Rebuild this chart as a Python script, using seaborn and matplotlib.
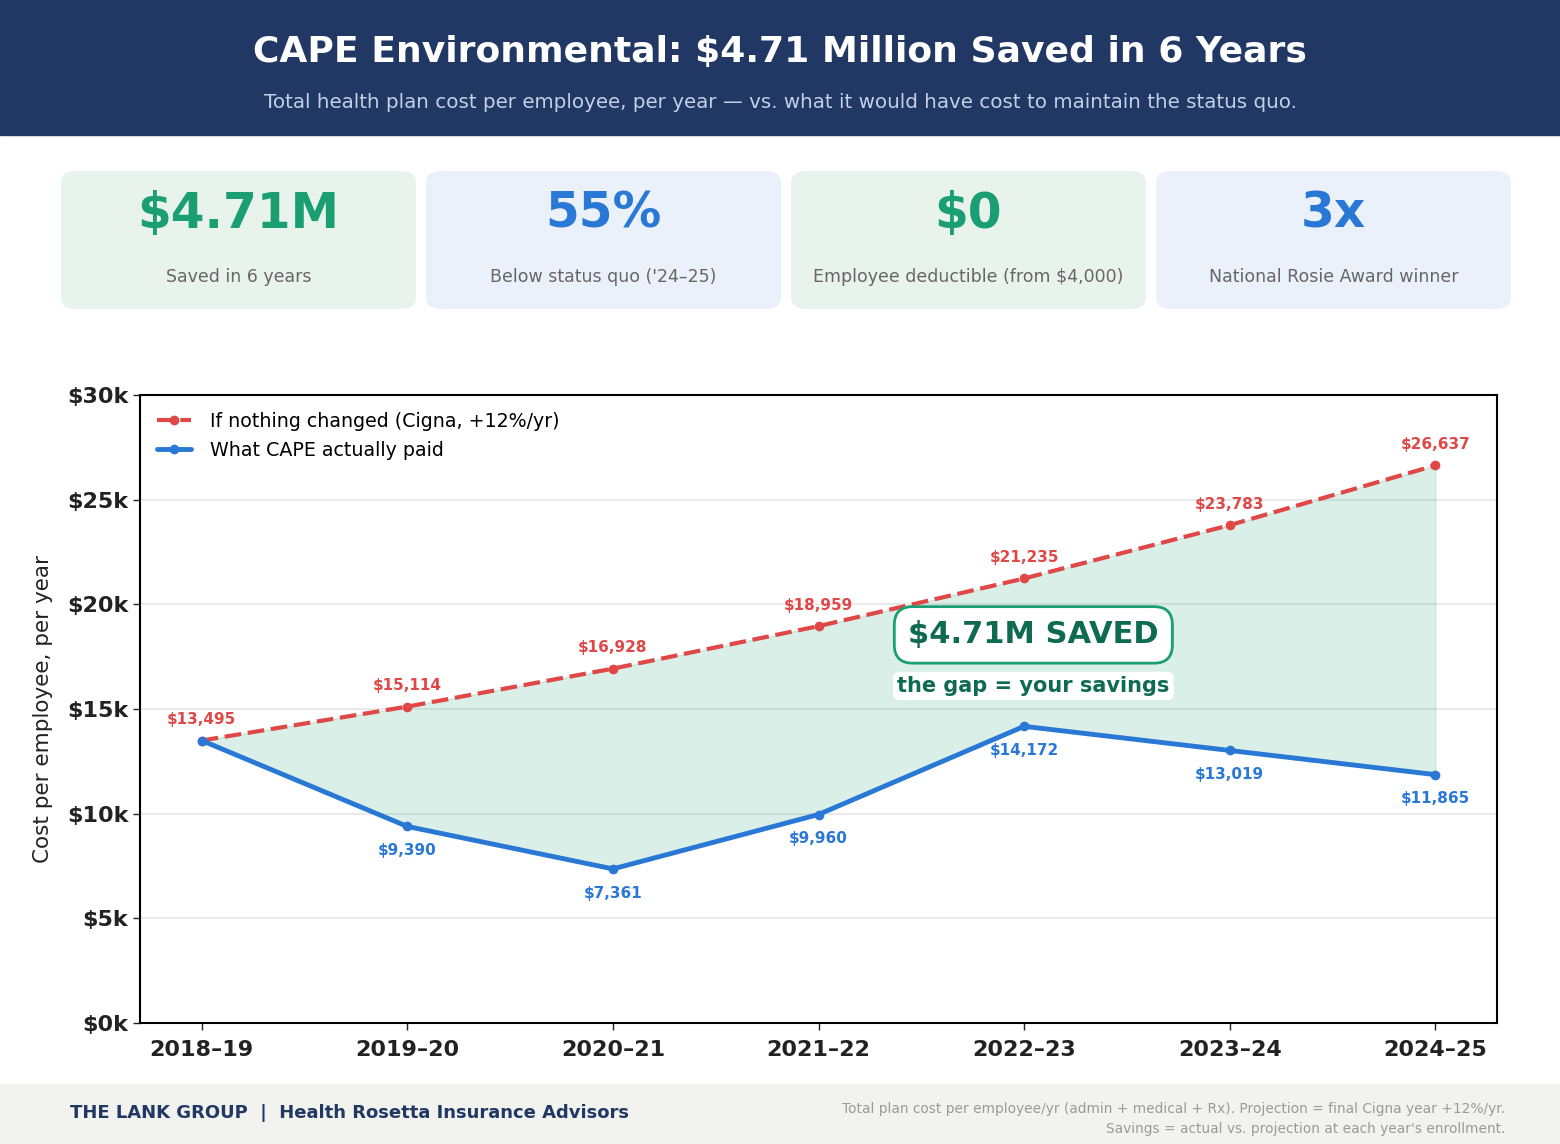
import numpy as np
import pandas as pd
import seaborn as sns
import matplotlib.pyplot as plt
from matplotlib.patches import FancyBboxPatch, Rectangle

# data
years = ["2018–19", "2019–20", "2020–21", "2021–22", "2022–23", "2023–24", "2024–25"]
status_quo = [13495, 15114, 16928, 18959, 21235, 23783, 26637]
actual = [13495, 9390, 7361, 9960, 14172, 13019, 11865]

card_values = ["$4.71M", "55%", "$0", "3x"]
card_labels = ["Saved in 6 years", "Below status quo ('24–25)",
               "Employee deductible (from $4,000)", "National Rosie Award winner"]

y_ticks = [0, 5000, 10000, 15000, 20000, 25000, 30000]
y_tick_labels = ["$0k", "$5k", "$10k", "$15k", "$20k", "$25k", "$30k"]

NAVY = "#213864"
RED = "#e04848"
BLUE = "#2a78d6"
GREEN = "#1a9e72"
DKGREEN = "#0e6b50"

sns.set_style("white")
plt.rcParams['font.family'] = ['DejaVu Sans']

fig = plt.figure(figsize=(15.6, 11.44), dpi=100)

# header band
fig.patches.append(Rectangle((0, 1 - 135 / 1144), 1, 135 / 1144, transform=fig.transFigure,
                             color=NAVY, zorder=0))
fig.text(0.5, 1 - 52 / 1144, "CAPE Environmental: $4.71 Million Saved in 6 Years",
         ha="center", va="center", color="white", fontsize=26, fontweight="bold")
fig.text(0.5, 1 - 103 / 1144,
         "Total health plan cost per employee, per year — vs. what it would have cost to maintain the status quo.",
         ha="center", va="center", color="#c3d0e6", fontsize=14.3)

# stat cards
card_colors = ["#e8f3ec", "#eaf1fb", "#e8f3ec", "#eaf1fb"]
value_colors = [GREEN, BLUE, GREEN, BLUE]
for i in range(4):
    x0 = 61 + i * 365
    fig.patches.append(FancyBboxPatch((x0 / 1560, 1 - 309 / 1144), 355 / 1560, 138 / 1144,
                                      boxstyle="round,pad=0,rounding_size=0.01",
                                      transform=fig.transFigure, facecolor=card_colors[i],
                                      edgecolor="none", zorder=0))
    cx = (x0 + 177.5) / 1560
    fig.text(cx, 1 - 214 / 1144, card_values[i], ha="center", va="center",
             color=value_colors[i], fontsize=35, fontweight="bold")
    fig.text(cx, 1 - 277 / 1144, card_labels[i], ha="center", va="center",
             color="#666666", fontsize=12.5)

# footer band
fig.patches.append(Rectangle((0, 0), 1, 60 / 1144, transform=fig.transFigure,
                             color="#f2f2ee", zorder=0))
fig.text(70 / 1560, 1 - 1113 / 1144, "THE LANK GROUP  |  Health Rosetta Insurance Advisors",
         ha="left", va="center", color=NAVY, fontsize=13, fontweight="bold")
fig.text(1505 / 1560, 1 - 1119 / 1144,
         "Total plan cost per employee/yr (admin + medical + Rx). Projection = final Cigna year +12%/yr.\n"
         "Savings = actual vs. projection at each year's enrollment.",
         ha="right", va="center", color="#9a9a9a", fontsize=9.9, linespacing=1.5)

# main chart
ax = fig.add_axes([140 / 1560, 1 - 1023 / 1144, 1357 / 1560, 628 / 1144])
df = pd.DataFrame({"year": years, "status_quo": status_quo, "actual": actual})
xs = np.arange(len(years))

ax.fill_between(xs, df["actual"], df["status_quo"], color="#1a9e72", alpha=0.16,
                edgecolor="#1a9e72", linewidth=1, zorder=1)
sns.lineplot(x=xs, y=df["status_quo"], ax=ax, color=RED, linewidth=3, marker="o",
             markersize=7, markeredgewidth=0, dashes=False, linestyle=(0, (4, 1.6)),
             label="If nothing changed (Cigna, +12%/yr)", zorder=3)
sns.lineplot(x=xs, y=df["actual"], ax=ax, color=BLUE, linewidth=3.5, marker="o",
             markersize=7, markeredgewidth=0, label="What CAPE actually paid", zorder=4)

for i, v in enumerate(status_quo):
    ax.text(xs[i], v + 650, f"${v:,}", ha="center", va="bottom", color=RED,
            fontsize=11, fontweight="bold")
for i, v in enumerate(actual):
    if i == 0:
        continue
    ax.text(xs[i], v - 800, f"${v:,}", ha="center", va="top", color=BLUE,
            fontsize=11, fontweight="bold")

ax.text(4.045, 18540, "$4.71M SAVED", ha="center", va="center", color=DKGREEN,
        fontsize=22, fontweight="bold", zorder=6,
        bbox=dict(boxstyle="round,pad=0.45,rounding_size=0.6", facecolor="white",
                  edgecolor=GREEN, linewidth=2))
ax.text(4.045, 16100, "the gap = your savings", ha="center", va="center", color=DKGREEN,
        fontsize=15, fontweight="bold", zorder=6,
        bbox=dict(boxstyle="round,pad=0.2,rounding_size=0.3", facecolor="white",
                  edgecolor="none"))

ax.set_xlim(-0.3, 6.3)
ax.set_ylim(0, 30000)
ax.set_xticks(xs)
ax.set_xticklabels(years, fontsize=16, fontweight="bold", color="#222222")
ax.set_yticks(y_ticks)
ax.set_yticklabels(y_tick_labels, fontsize=16, fontweight="bold", color="#222222")
ax.set_xlabel("")
ax.set_ylabel("Cost per employee, per year", fontsize=15.5, color="#222222", labelpad=10)
ax.tick_params(axis="both", length=5, width=1, color="#222222", bottom=True, left=True)
ax.tick_params(axis="x", pad=7)
ax.yaxis.grid(True, color="#e6e6e6", linewidth=1.2, zorder=0)
ax.set_axisbelow(True)
for s in ax.spines.values():
    s.set_color("black")
    s.set_linewidth(1.5)

leg = ax.legend(loc="upper left", frameon=False, fontsize=13.7, handlelength=1.8,
                handletextpad=1.0)
for t in leg.get_texts():
    t.set_color("black")

fig.savefig("out.png", dpi=100)
